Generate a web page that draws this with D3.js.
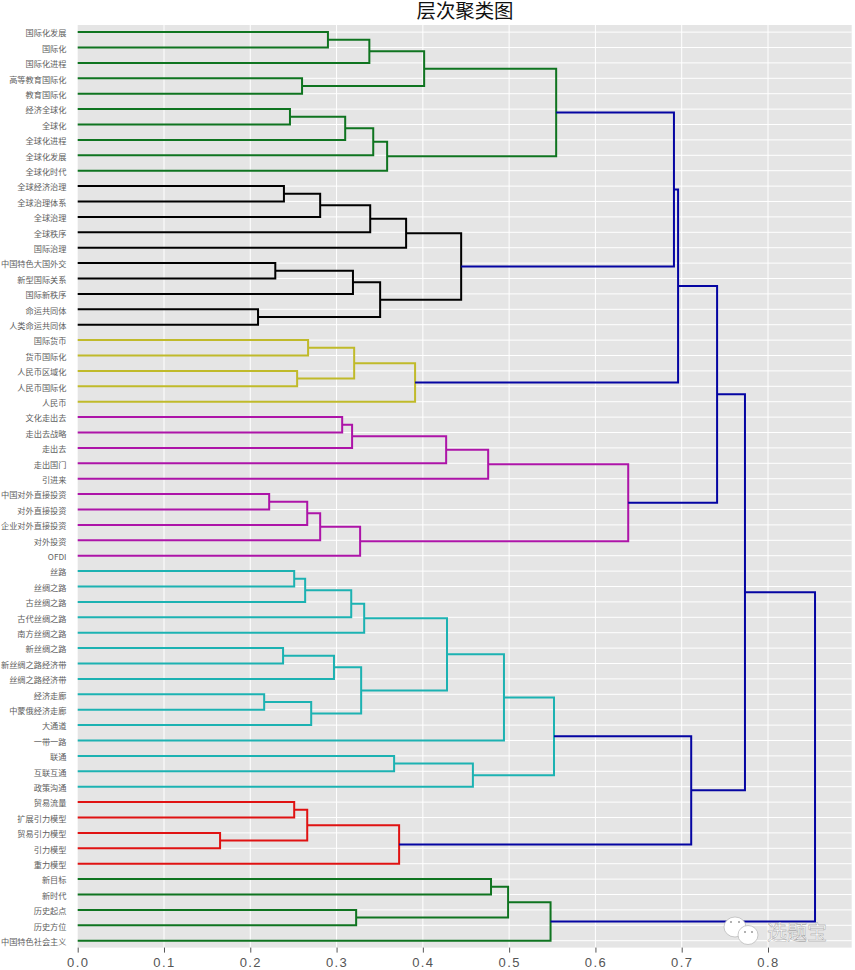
<!DOCTYPE html>
<html><head><meta charset="utf-8">
<script src="https://cdnjs.cloudflare.com/ajax/libs/d3/7.8.5/d3.min.js"></script>
<style>html,body{margin:0;padding:0;background:#fff}svg{display:block}</style>
</head><body><svg id="c" width="855" height="970"></svg>
<script>
const title = "层次聚类图";
const leafLabels = ["国际化发展","国际化","国际化进程","高等教育国际化","教育国际化","经济全球化","全球化","全球化进程","全球化发展","全球化时代",
"全球经济治理","全球治理体系","全球治理","全球秩序","国际治理","中国特色大国外交","新型国际关系","国际新秩序","命运共同体","人类命运共同体",
"国际货币","货币国际化","人民币区域化","人民币国际化","人民币",
"文化走出去","走出去战略","走出去","走出国门","引进来","中国对外直接投资","对外直接投资","企业对外直接投资","对外投资","OFDI",
"丝路","丝绸之路","古丝绸之路","古代丝绸之路","南方丝绸之路","新丝绸之路","新丝绸之路经济带","丝绸之路经济带","经济走廊","中蒙俄经济走廊","大通道","一带一路","联通","互联互通","政策沟通",
"贸易流量","扩展引力模型","贸易引力模型","引力模型","重力模型",
"新目标","新时代","历史起点","历史方位","中国特色社会主义"];
// Linkage table: a child id below 60 is a leaf, id 60+k is the k-th merge.
const mergeLeft  = [0,60,3,61,5,64,65,66,63, 10,69,70,71,15,73,18,74,72,68, 20,22,79,81,78, 25,84,85,86,30,88,89,90,87,83, 35,94,95,96,40,98,43,100,99,97,103,47,105,104, 50,52,108,110,107, 55,57,113,115,93,117];
const mergeRight = [1,2,4,62,6,7,8,9,67, 11,12,13,14,16,17,19,75,76,77, 21,23,80,24,82, 26,27,28,29,31,32,33,34,91,92, 36,37,38,39,41,42,44,45,101,102,46,48,49,106, 51,53,109,54,111, 56,58,114,59,112,116];
const mergeHeight = [.290,.338,.260,.4015,.246,.310,.3425,.3586,.5545, .239,.281,.339,.3806,.229,.319,.209,.3505,.4444,.691, .267,.2543,.3204,.391,.6958, .3065,.318,.427,.4757,.2219,.266,.281,.3273,.638,.741, .2509,.2636,.317,.332,.238,.297,.2161,.2706,.3285,.428,.494,.3667,.458,.552, .2509,.165,.266,.3725,.711, .479,.3227,.4988,.548,.7733,.8545];
const mergeGroup = ["g","g","g","g","g","g","g","g","g", "k","k","k","k","k","k","k","k","k","b", "y","y","y","y","b", "m","m","m","m","m","m","m","m","m","b", "c","c","c","c","c","c","c","c","c","c","c","c","c","c", "r","r","r","r","b", "g","g","g","g","b","b"];
const groupKeys = ["g","k","y","m","c","r","b"];
const groupColors = ["#0f7420","#000000","#c0ba2a","#ad14a8","#1cb2b2","#e01212","#0505a2"];
const xTicks = [0,.1,.2,.3,.4,.5,.6,.7,.8];

const svg = d3.select("#c");
const x = d3.scaleLinear().domain([0,.897]).range([77.7,851.7]);
const y = d3.scaleLinear().domain([0,600]).range([24.4,948.4]);
const color = d3.scaleOrdinal(groupKeys, groupColors);
const plotBottom = 947.6;

// background
svg.append("rect").attr("x",x(0)).attr("y",25).attr("width",x(.897)-x(0)).attr("height",plotBottom-25).attr("fill","#e5e5e5");

// grid
const leafPos = leafLabels.map((_,i)=>10*i+5);
svg.append("g").selectAll("line").data(leafPos).join("line")
  .attr("x1",x(0)).attr("x2",x(.897)).attr("y1",d=>y(d)).attr("y2",d=>y(d))
  .attr("stroke","#fff").attr("stroke-width",1);
svg.append("g").selectAll("line").data(xTicks.slice(1)).join("line")
  .attr("x1",d=>x(d)).attr("x2",d=>x(d)).attr("y1",25).attr("y2",plotBottom)
  .attr("stroke","#fff").attr("stroke-width",1);

// linkage positions
const nodes = leafPos.map(p=>({pos:p,h:0}));
const line = d3.line().x(d=>x(d[0])).y(d=>y(d[1]));
const links = mergeLeft.map((l,k)=>{
  const a=nodes[l], b=nodes[mergeRight[k]], h=mergeHeight[k];
  nodes.push({pos:(a.pos+b.pos)/2,h});
  return {pts:[[a.h,a.pos],[h,a.pos],[h,b.pos],[b.h,b.pos]],group:mergeGroup[k]};
});
svg.append("g").selectAll("path").data(links).join("path")
  .attr("d",d=>line(d.pts)).attr("fill","none")
  .attr("stroke",d=>color(d.group)).attr("stroke-width",2);

// y labels
svg.append("g").selectAll("text").data(leafLabels).join("text")
  .attr("x",66.5).attr("y",(d,i)=>y(leafPos[i])+4.3)
  .attr("text-anchor","end").attr("fill","#5e5e5e")
  .attr("font-family","'Noto Sans CJK SC'").attr("font-size",8.2)
  .text(d=>d);

// x axis
const ax = svg.append("g").attr("transform",`translate(0,${plotBottom})`)
  .call(d3.axisBottom(x).tickValues(xTicks).tickFormat(d3.format(".1f")).tickSize(5).tickPadding(5.5));
ax.select(".domain").remove();
ax.selectAll(".tick line").attr("stroke","#555");
ax.selectAll("text").attr("fill","#555").attr("font-family","'Liberation Sans'")
  .attr("font-size",13).attr("letter-spacing","1.4px");

// title
svg.append("text").attr("x",465).attr("y",17.5).attr("text-anchor","middle")
  .attr("font-family","'Noto Sans CJK SC'").attr("font-size",19.4).attr("fill","#111").text(title);

// watermark
const wm = svg.append("g");
const bubbles = [[735,927,11,10],[748,935,10,9.5]];
bubbles.forEach(e=>{
  wm.append("ellipse").attr("cx",e[0]).attr("cy",e[1]).attr("rx",e[2]).attr("ry",e[3])
    .attr("fill","#fff").attr("stroke","#b5b5b5").attr("stroke-width",.7);
});
[[731,922],[739,922],[745,932],[752,932]].forEach(p=>{
  wm.append("circle").attr("cx",p[0]).attr("cy",p[1]).attr("r",1).attr("fill","#999");
});
wm.append("text").attr("x",767).attr("y",940).attr("font-family","'Noto Sans CJK SC'")
  .attr("font-size",20).attr("fill","#fff").attr("stroke","#8a8a8a").attr("stroke-width",.35).text("选题宝");
</script></body></html>
